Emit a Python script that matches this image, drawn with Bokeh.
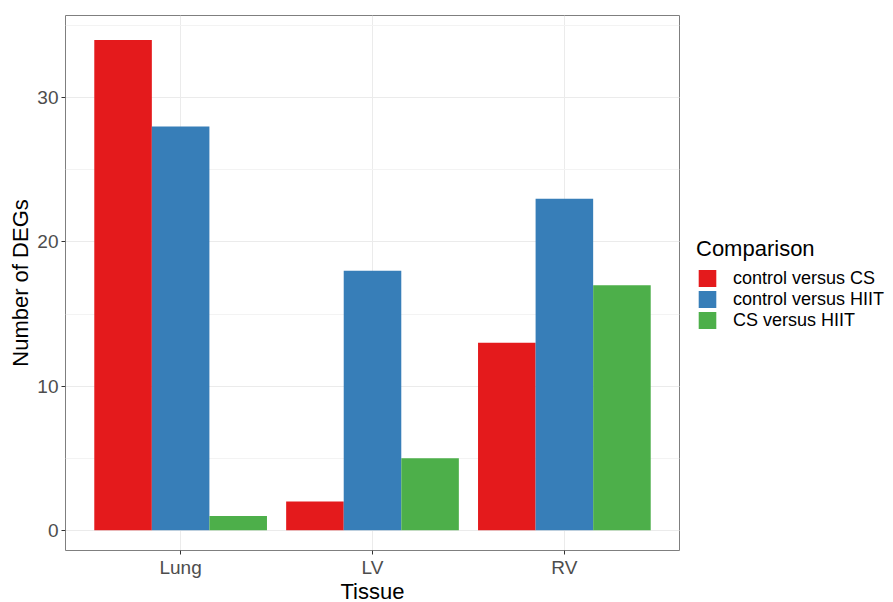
from bokeh.plotting import figure
from bokeh.models import (ColumnDataSource, FactorRange, Range1d, Legend, LegendItem,
                          SingleIntervalTicker)
from bokeh.transform import dodge
from bokeh.embed import file_html
from bokeh.resources import INLINE

tissues = ["Lung", "LV", "RV"]
comparisons = ["control versus CS", "control versus HIIT", "CS versus HIIT"]
control_vs_cs = [34, 2, 13]
control_vs_hiit = [28, 18, 23]
cs_vs_hiit = [1, 5, 17]
colors = ["#E41A1C", "#377EB8", "#4DAF4A"]

FONT = "Liberation Sans"

source = ColumnDataSource(dict(tissue=tissues, s0=control_vs_cs, s1=control_vs_hiit, s2=cs_vs_hiit))

p = figure(
    x_range=FactorRange(factors=tissues, range_padding=0.1, range_padding_units="absolute"),
    y_range=Range1d(-1.4, 35.7),
    frame_width=614, frame_height=535,
    output_backend="svg", toolbar_location=None,
    min_border_left=65, min_border_right=0, min_border_top=15, min_border_bottom=40,
)

renderers = []
offsets = [-0.3, 0.0, 0.3]
for i, col in enumerate(["s0", "s1", "s2"]):
    r = p.vbar(x=dodge("tissue", offsets[i], range=p.x_range), top=col, bottom=0,
               width=0.3, source=source, fill_color=colors[i], line_color=None)
    renderers.append(r)

p.outline_line_color = "#7F7F7F"
p.outline_line_width = 1
p.background_fill_color = "white"
p.border_fill_color = "white"

p.yaxis.ticker = SingleIntervalTicker(interval=10, num_minor_ticks=2)
for ax in (p.xaxis, p.yaxis):
    ax.axis_line_color = None
    ax.major_tick_line_color = "#333333"
    ax.major_tick_out = 4
    ax.major_tick_in = 0
    ax.minor_tick_line_color = None
    ax.major_label_text_font = FONT
    ax.major_label_text_font_size = "19px"
    ax.major_label_text_color = "#4D4D4D"
    ax.axis_label_text_font = FONT
    ax.axis_label_text_font_size = "22px"
    ax.axis_label_text_font_style = "normal"
    ax.axis_label_text_color = "black"

p.xaxis.axis_label = "Tissue"
p.yaxis.axis_label = "Number of DEGs"
p.xaxis.major_label_standoff = 2
p.xaxis.axis_label_standoff = -2
p.yaxis.major_label_standoff = 3
p.yaxis.axis_label_standoff = 1

p.xgrid.grid_line_color = "#EBEBEB"
p.xgrid.grid_line_width = 1
p.ygrid.grid_line_color = "#EBEBEB"
p.ygrid.grid_line_width = 1
p.ygrid.minor_grid_line_color = "#F3F3F3"
p.ygrid.minor_grid_line_width = 1

legend = Legend(
    items=[LegendItem(label=comparisons[i], renderers=[renderers[i]]) for i in range(3)],
    title="Comparison",
    location="center_left",
    orientation="vertical",
)
legend.title_text_font = FONT
legend.title_text_font_size = "22px"
legend.title_text_font_style = "normal"
legend.title_text_color = "black"
legend.title_standoff = 6
legend.label_text_font = FONT
legend.label_text_font_size = "18px"
legend.label_text_color = "black"
legend.glyph_width = 22
legend.glyph_height = 21
legend.label_height = 19
legend.label_standoff = 15
legend.spacing = 0
legend.padding = 10
legend.margin = 17
legend.border_line_color = None
legend.background_fill_alpha = 0
p.add_layout(legend, "right")

open("out.html", "w").write(file_html(p, INLINE))
